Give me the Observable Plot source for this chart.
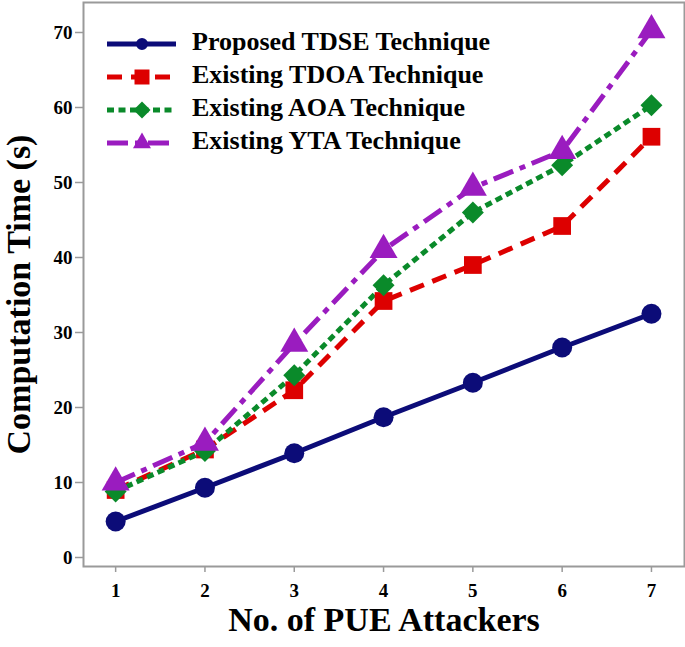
<!DOCTYPE html>
<html>
<head>
<meta charset="utf-8">
<script src="https://cdn.jsdelivr.net/npm/d3@7"></script>
<script src="https://cdn.jsdelivr.net/npm/@observablehq/plot@0.6"></script>
<style>
  html, body { margin: 0; padding: 0; background: #fff; }
  #wrap { position: relative; width: 685px; height: 647px; font-family: "Liberation Serif", "Times New Roman", serif; }
  #legend { position: absolute; left: 0; top: 0; }
</style>
</head>
<body>
<div id="wrap"></div>
<script>
const attackers = [1, 2, 3, 4, 5, 6, 7];
const seriesNames = ["Proposed TDSE Technique", "Existing TDOA Technique", "Existing AOA Technique", "Existing YTA Technique"];
const tdse = [4.8, 9.3, 13.9, 18.7, 23.3, 28.0, 32.5];
const tdoa = [9.0, 14.4, 22.3, 34.2, 39.0, 44.2, 56.1];
const aoa  = [8.8, 14.2, 24.3, 36.3, 46.0, 52.3, 60.3];
const yta  = [10.0, 15.3, 28.5, 41.0, 49.3, 54.2, 70.3];
const yTicks = [0, 10, 20, 30, 40, 50, 60, 70];
const xTitle = "No. of PUE Attackers";
const yTitle = "Computation Time (s)";

const colors = ["#0c0c78", "#dd0000", "#0a8a2a", "#9a1cbf"];
const symbols = ["circle", "square", "diamond2", "triangle"];
const dashes = [null, "15,9", "7,4.5", "21,7,6,7"];
const radii = [10, 10, 9.9, 10.4];
const legendSizes = [113, 225, 184, 140];

const allValues = [tdse, tdoa, aoa, yta];
const rows = [];
allValues.forEach((vals, s) => vals.forEach((v, i) => rows.push({series: seriesNames[s], x: attackers[i], y: v})));

const font = '"Liberation Serif", "Times New Roman", serif';
const marks = [Plot.frame({stroke: "#9a9a9a", strokeWidth: 2})];
seriesNames.forEach((name, s) => {
  const d = rows.filter(r => r.series === name);
  marks.push(Plot.line(d, {x: "x", y: "y", stroke: colors[s], strokeWidth: 5, strokeDasharray: dashes[s], strokeLinecap: "butt", strokeLinejoin: "miter"}));
});
seriesNames.forEach((name, s) => {
  const d = rows.filter(r => r.series === name);
  marks.push(Plot.dot(d, {x: "x", y: "y", fill: colors[s], stroke: "none", symbol: () => symbols[s], r: radii[s]}));
});
marks.push(Plot.axisX({ticks: attackers, tickSize: 6, stroke: "#9a9a9a", strokeWidth: 1.5, fill: "black", tickPadding: 11, fontSize: 19, fontWeight: "bold", label: null, tickFormat: d => d}));
marks.push(Plot.axisY({ticks: yTicks, tickSize: 8, stroke: "#9a9a9a", strokeWidth: 1.5, fill: "black", tickPadding: 3, fontSize: 19, fontWeight: "bold", label: null}));
marks.push(Plot.text([yTitle], {frameAnchor: "left", textAnchor: "middle", dx: -64, dy: 10, rotate: -90, fontSize: 34, fontWeight: "bold", fill: "black"}));
marks.push(Plot.text([xTitle], {frameAnchor: "bottom", textAnchor: "middle", dy: 64, fontSize: 34, fontWeight: "bold", fill: "black"}));

const chart = Plot.plot({
  width: 685,
  height: 647,
  marginLeft: 83,
  marginRight: 1,
  marginTop: 2,
  marginBottom: 81,
  style: {fontFamily: font, background: "white"},
  x: {domain: [0.64, 7.37]},
  y: {domain: [-1.2, 74]},
  symbol: {type: "identity"},
  marks
});
document.getElementById("wrap").appendChild(chart);

// Legend overlay
const leg = d3.select("#wrap").append("svg").attr("id", "legend").attr("width", 685).attr("height", 200);
const sym = {circle: d3.symbolCircle, square: d3.symbolSquare, diamond2: d3.symbolDiamond2, triangle: d3.symbolTriangle};
seriesNames.forEach((name, s) => {
  const y = 44 + s * 33;
  const g = leg.append("g");
  g.append("line").attr("x1", 107).attr("x2", 176).attr("y1", y).attr("y2", y)
    .attr("stroke", colors[s]).attr("stroke-width", 5).attr("stroke-dasharray", dashes[s]);
  g.append("path").attr("transform", `translate(142,${y})`)
    .attr("d", d3.symbol(sym[symbols[s]], legendSizes[s])())
    .attr("fill", colors[s]);
  g.append("text").attr("x", 192).attr("y", y + 6)
    .attr("font-family", font)
    .attr("font-weight", "bold").attr("font-size", 26).text(name);
});
</script>
</body>
</html>
